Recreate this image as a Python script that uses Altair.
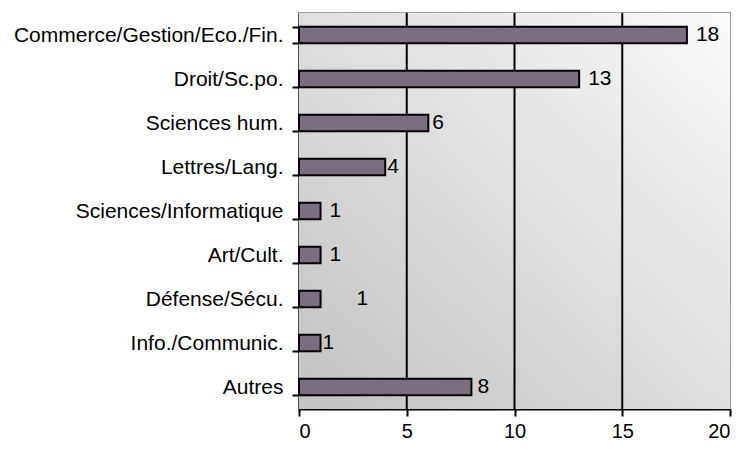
import altair as alt
import pandas as pd

categories = ["Commerce/Gestion/Eco./Fin.", "Droit/Sc.po.", "Sciences hum.", "Lettres/Lang.",
              "Sciences/Informatique", "Art/Cult.", "Défense/Sécu.", "Info./Communic.", "Autres"]
values = [18, 13, 6, 4, 1, 1, 1, 1, 8]
x_ticks = [0, 5, 10, 15, 20]
grid_values = [5, 10, 15]

df = pd.DataFrame({"cat": categories, "val": values})
grid_df = pd.DataFrame({"g": grid_values})

FONT = "Liberation Sans"
xscale = alt.Scale(domain=[0, 20], nice=False)
yscale = alt.Scale(domain=categories, paddingInner=0.62, paddingOuter=0.31)

bg = alt.Chart(pd.DataFrame({"a": [0]})).mark_rect(
    fill=alt.Gradient(gradient="linear",
                      stops=[alt.GradientStop(color="#c2c2c2", offset=0),
                             alt.GradientStop(color="#fafafa", offset=1)],
                      x1=0, y1=1, x2=1, y2=0)
).encode(x=alt.value(0), x2=alt.value(431), y=alt.value(0), y2=alt.value(396))

grid = alt.Chart(grid_df).mark_rule(color="black", strokeWidth=2).encode(
    x=alt.X("g:Q", scale=xscale)
)

bars = alt.Chart(df).mark_bar(fill="#7b6e80", stroke="black", strokeWidth=2).encode(
    x=alt.X("val:Q", scale=xscale,
            axis=alt.Axis(values=x_ticks, title=None, grid=False, domainColor="black", domainWidth=2,
                          tickColor="black", tickWidth=2, tickSize=7, labelFont=FONT,
                          labelFontSize=20, labelColor="black", labelPadding=5)),
    y=alt.Y("cat:N", scale=yscale, sort=categories,
            axis=alt.Axis(title=None, tickBand="extent", domainColor="black", domainWidth=2,
                          tickColor="black", tickWidth=2, tickSize=7, labelFont=FONT,
                          labelFontSize=21, labelColor="black", labelPadding=9, labelLimit=300))
)

def labels(sel, dx):
    return alt.Chart(df).transform_filter(
        alt.FieldOneOfPredicate(field="cat", oneOf=sel)
    ).mark_text(align="left", baseline="middle", dx=dx, font=FONT, fontSize=21, color="black").encode(
        x=alt.X("val:Q", scale=xscale),
        y=alt.Y("cat:N", scale=yscale, sort=categories),
        text="val:Q"
    )

lab_normal = labels(["Commerce/Gestion/Eco./Fin.", "Droit/Sc.po.", "Sciences/Informatique", "Art/Cult."], 9)
lab_six = labels(["Sciences hum."], 4)
lab_close = labels(["Lettres/Lang.", "Info./Communic."], 2)
lab_autres = labels(["Autres"], 6)
lab_far = labels(["Défense/Sécu."], 36)

chart = alt.layer(bg, grid, bars, lab_normal, lab_six, lab_close, lab_autres, lab_far).properties(
    width=431, height=396,
    autosize=alt.AutoSizeParams(type="none"),
    padding={"left": 291, "top": 5, "right": 5, "bottom": 34},
    background="white"
).configure_view(stroke="#a0a0a0", strokeWidth=2)

chart.save("out.html", embed_options={"renderer": "svg", "actions": False})
